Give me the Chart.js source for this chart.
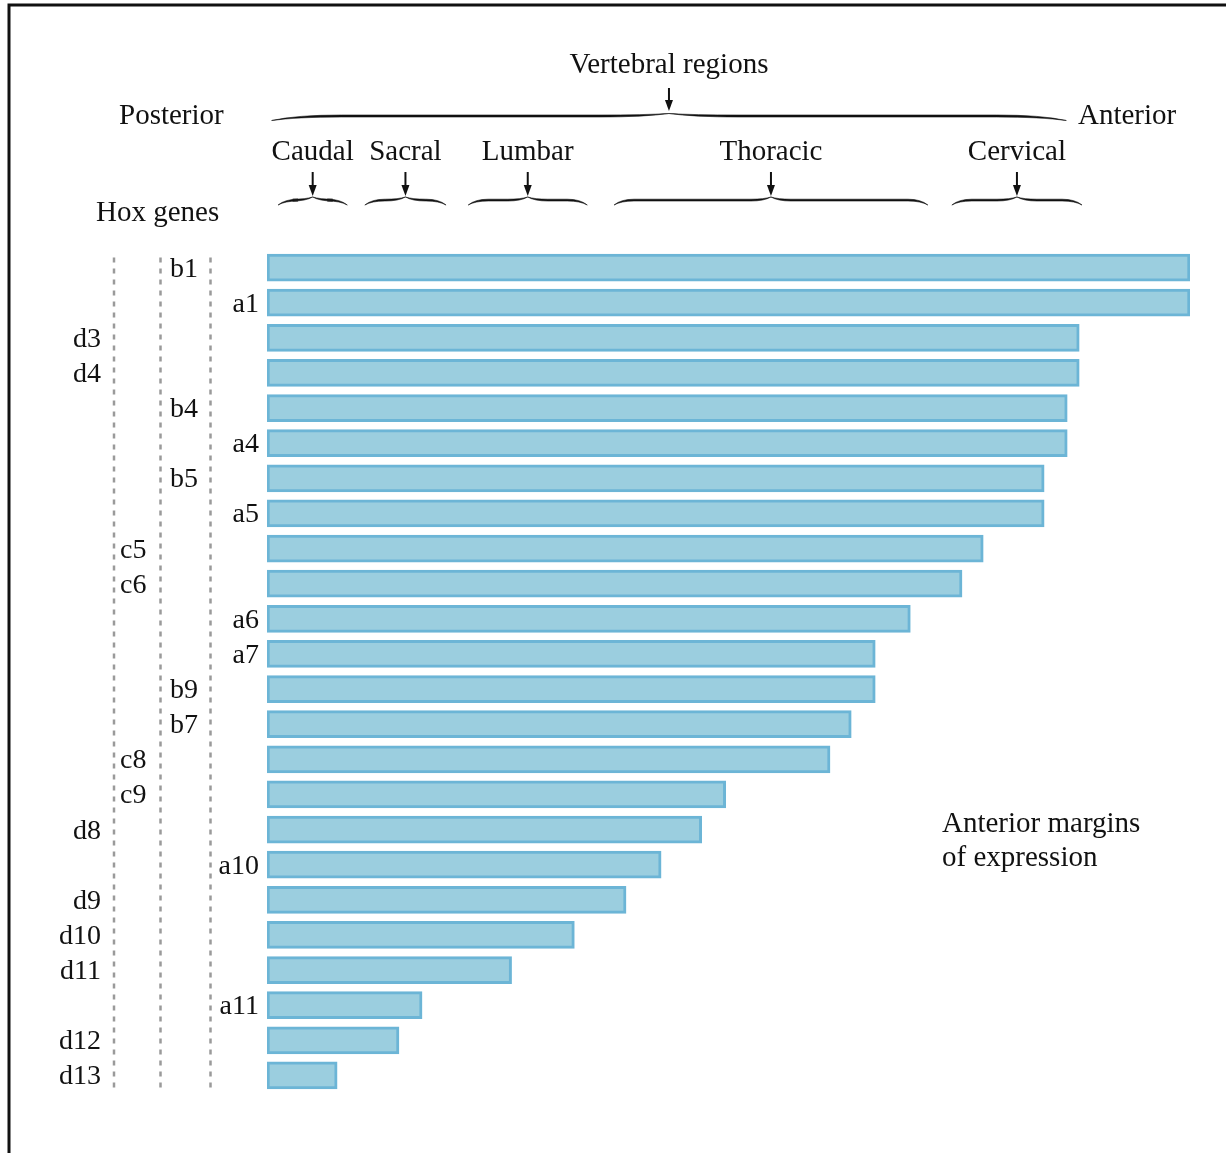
<!DOCTYPE html>
<html>
<head>
<meta charset="utf-8">
<title>Hox genes - anterior margins of expression</title>
<script src="https://cdn.jsdelivr.net/npm/chart.js@4/dist/chart.umd.min.js"></script>
<style>
  body { margin: 0; background: #fff; }
  canvas { display: block; }
</style>
</head>
<body>
<canvas id="hoxChart" width="1226" height="1153"></canvas>
<script>
// Hox genes, top to bottom, and how far forward each one is expressed (b1 = 100)
var genes = ["b1", "a1", "d3", "d4", "b4", "a4", "b5", "a5", "c5", "c6", "a6", "a7",
             "b9", "b7", "c8", "c9", "d8", "a10", "d9", "d10", "d11", "a11", "d12", "d13"];
var margins = [100, 100, 88.0, 88.0, 86.7, 86.7, 84.2, 84.2, 77.6, 75.3, 69.7, 65.9,
               65.9, 63.3, 61.0, 49.7, 47.1, 42.7, 38.9, 33.3, 26.5, 16.8, 14.3, 7.6];

// vertebral regions along the same axis (posterior -> anterior)
var regions = ["Caudal", "Sacral", "Lumbar", "Thoracic", "Cervical"];
var regionStart = [1.2, 10.6, 21.8, 37.6, 74.2];
var regionEnd = [8.7, 19.4, 34.7, 71.6, 88.3];
var allRegions = [0.5, 86.6];

var serif = '"Liberation Serif", "Times New Roman", serif';
var ink = '#111';

function drawArrow(ctx, x, y1, y2) {
    ctx.strokeStyle = ink;
    ctx.fillStyle = ink;
    ctx.lineWidth = 2;
    ctx.beginPath();
    ctx.moveTo(x, y1);
    ctx.lineTo(x, y2 - 8);
    ctx.stroke();
    ctx.beginPath();
    ctx.moveTo(x - 4, y2 - 11);
    ctx.lineTo(x + 4, y2 - 11);
    ctx.lineTo(x, y2);
    ctx.closePath();
    ctx.fill();
}

// curly brace, ends hang down, peak points up
function drawBrace(ctx, x1, x2, y, h, s, t) {
    var xm = (x1 + x2) / 2;
    ctx.fillStyle = ink;
    ctx.strokeStyle = ink;
    [[x1, 1], [x2, -1]].forEach(function(side) {
        var xe = side[0], d = side[1];
        ctx.beginPath();
        ctx.moveTo(xe, y + h);
        ctx.quadraticCurveTo(xe + d * s * 0.35, y - t, xe + d * s, y - t);
        ctx.lineTo(xm - d * s, y - t);
        ctx.quadraticCurveTo(xm - d * s * 0.35, y - t, xm, y - h);
        ctx.quadraticCurveTo(xm - d * s * 0.35, y, xm - d * s, y);
        ctx.lineTo(xe + d * s, y);
        ctx.quadraticCurveTo(xe + d * s * 0.35, y, xe, y + h);
        ctx.closePath();
        ctx.fill();
        ctx.lineWidth = 0.6;
        ctx.stroke();
    });
}

var hoxDecor = {
    id: 'hoxDecor',
    beforeDatasetsDraw: function(chart) {
        var ctx = chart.ctx;
        var yScale = chart.scales.y;
        ctx.save();
        // frame
        ctx.strokeStyle = ink;
        ctx.lineWidth = 3;
        ctx.beginPath();
        ctx.moveTo(9, 1153);
        ctx.lineTo(9, 5);
        ctx.lineTo(1226, 5);
        ctx.stroke();
        // dotted column guides
        var top = yScale.getPixelForValue(0) - 10;
        var bottom = yScale.getPixelForValue(genes.length - 1) + 17;
        ctx.strokeStyle = '#9a9a9a';
        ctx.lineWidth = 2.5;
        ctx.setLineDash([5, 6]);
        [114, 160.5, 210.5].forEach(function(x) {
            ctx.beginPath();
            ctx.moveTo(x, top);
            ctx.lineTo(x, bottom);
            ctx.stroke();
        });
        ctx.restore();
    },
    afterDatasetsDraw: function(chart) {
        var ctx = chart.ctx;
        var xScale = chart.scales.x;
        var yScale = chart.scales.y;
        ctx.save();
        ctx.fillStyle = ink;
        ctx.textBaseline = 'alphabetic';

        // gene labels in four columns by paralog group
        ctx.font = '28px ' + serif;
        genes.forEach(function(g, i) {
            var y = yScale.getPixelForValue(i) + 9;
            var group = g.charAt(0);
            if (group === 'd') { ctx.textAlign = 'right'; ctx.fillText(g, 101, y); }
            if (group === 'c') { ctx.textAlign = 'left'; ctx.fillText(g, 120, y); }
            if (group === 'b') { ctx.textAlign = 'left'; ctx.fillText(g, 170, y); }
            if (group === 'a') { ctx.textAlign = 'right'; ctx.fillText(g, 259, y); }
        });

        // header texts
        ctx.font = '29px ' + serif;
        ctx.textAlign = 'left';
        ctx.fillText('Posterior', 119, 124);
        ctx.fillText('Anterior', 1078, 124);
        ctx.fillText('Hox genes', 96, 221);
        ctx.fillText('Anterior margins', 942, 832);
        ctx.fillText('of expression', 942, 866);

        var bx1 = xScale.getPixelForValue(allRegions[0]);
        var bx2 = xScale.getPixelForValue(allRegions[1]);
        var bxm = (bx1 + bx2) / 2;
        ctx.textAlign = 'center';
        ctx.fillText('Vertebral regions', bxm, 73);
        drawArrow(ctx, bxm, 88, 111);
        drawBrace(ctx, bx1, bx2, 117, 3.5, 70, 2);

        regions.forEach(function(r, i) {
            var x1 = xScale.getPixelForValue(regionStart[i]);
            var x2 = xScale.getPixelForValue(regionEnd[i]);
            var xm = (x1 + x2) / 2;
            ctx.font = '29px ' + serif;
            ctx.textAlign = 'center';
            ctx.fillText(r, xm, 160);
            drawArrow(ctx, xm, 172, 196);
            drawBrace(ctx, x1, x2, 201, 4, 20, 1.8);
        });
        ctx.restore();
    }
};

new Chart(document.getElementById('hoxChart'), {
    type: 'bar',
    data: {
        labels: genes,
        datasets: [{
            data: margins,
            backgroundColor: '#9bcedf',
            borderColor: '#6cb5d6',
            borderWidth: 3,
            borderSkipped: false,
            barThickness: 27
        }]
    },
    options: {
        indexAxis: 'y',
        responsive: false,
        animation: false,
        layout: { padding: { left: 267, right: 36, top: 250, bottom: 60 } },
        scales: {
            x: { type: 'linear', min: 0, max: 100, display: false },
            y: { display: false }
        },
        plugins: {
            legend: { display: false },
            tooltip: { enabled: false }
        }
    },
    plugins: [hoxDecor]
});
</script>
</body>
</html>
